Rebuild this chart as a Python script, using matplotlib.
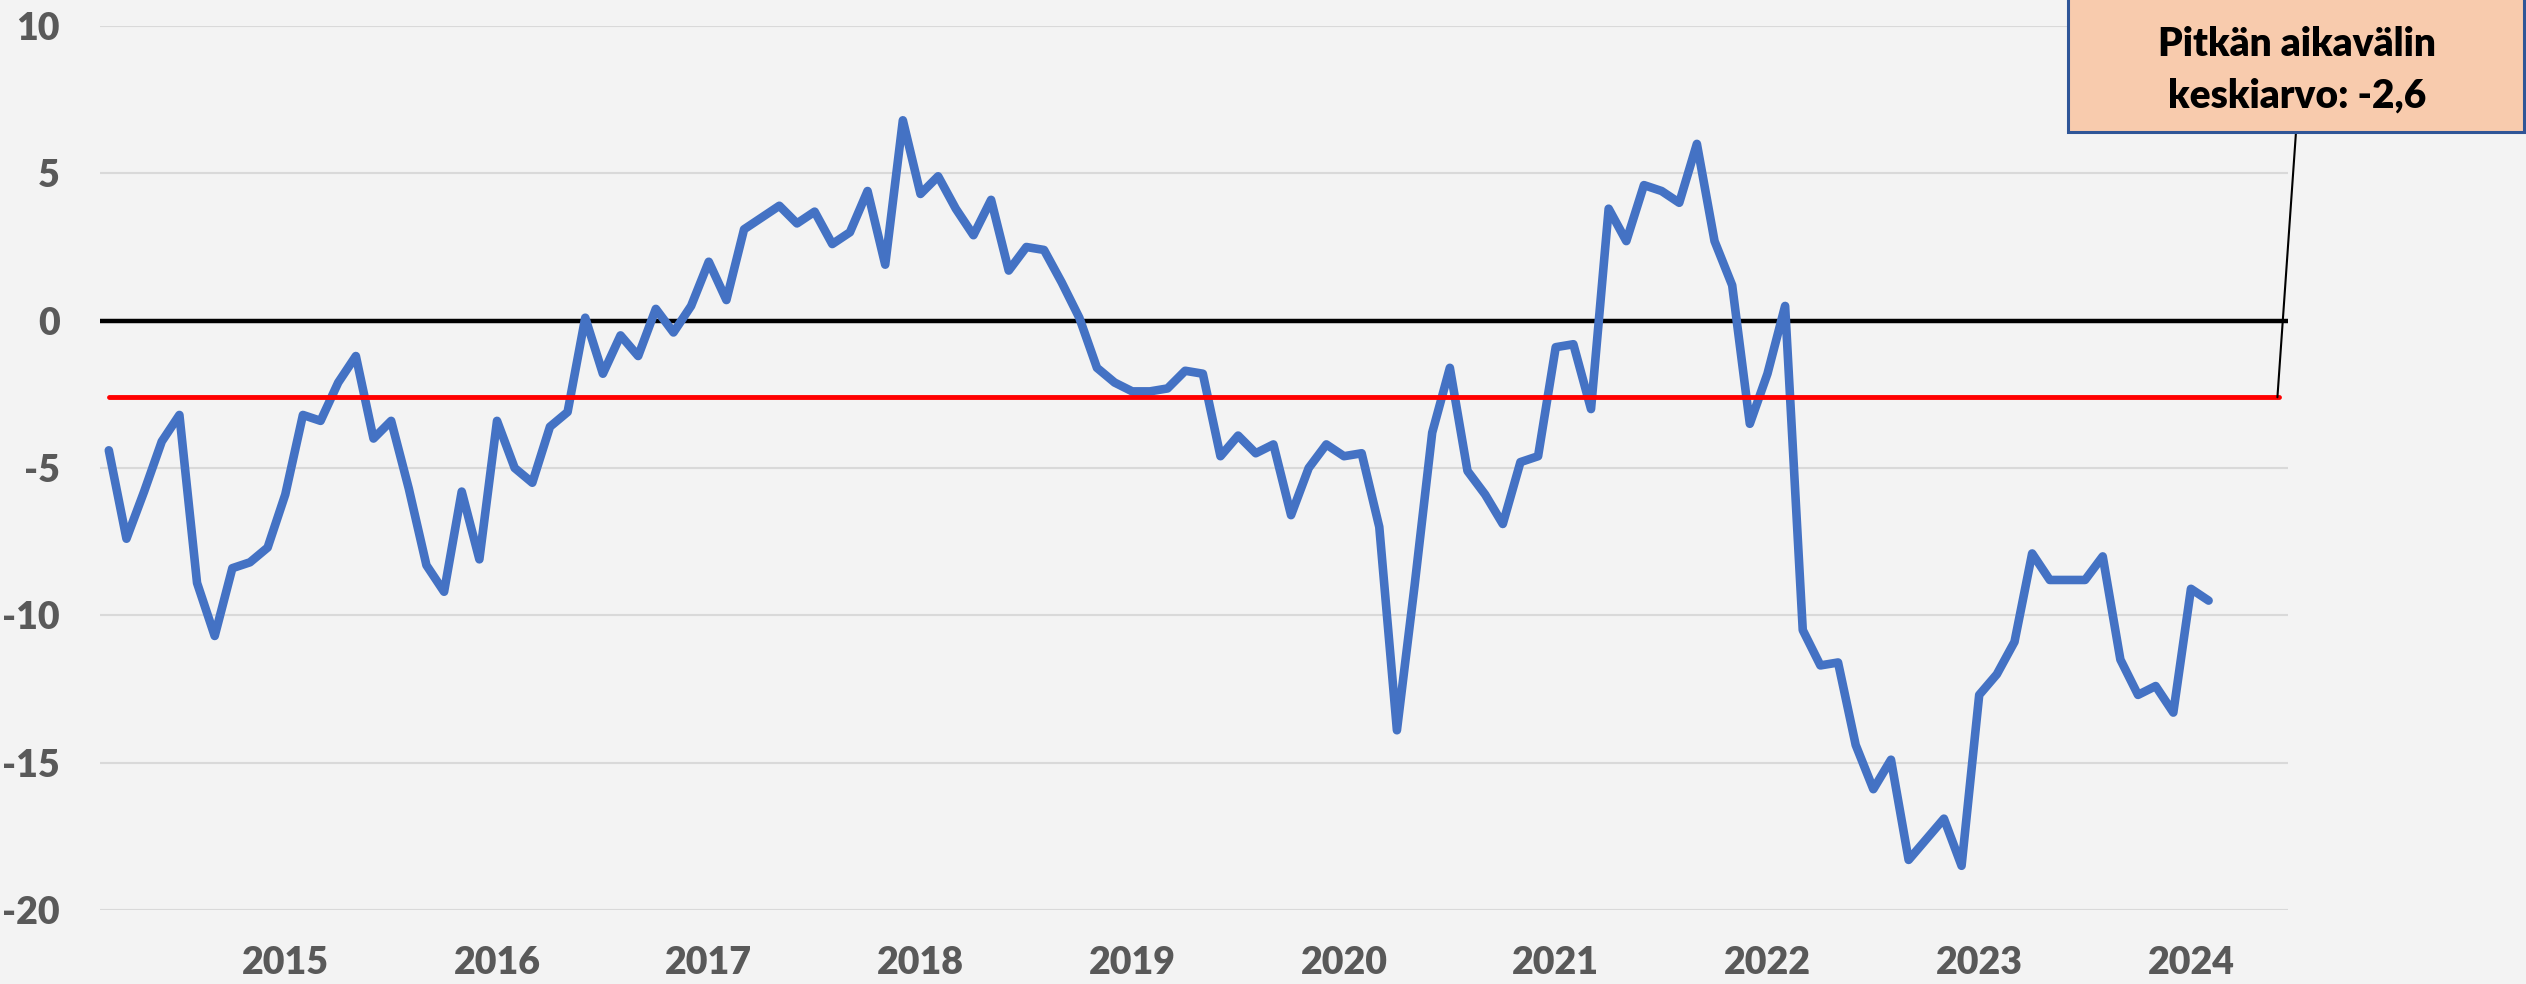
import matplotlib
matplotlib.use("Agg")
import matplotlib.pyplot as plt
import numpy as np

plt.rcParams["axes.unicode_minus"] = False
plt.rcParams["font.family"] = ["Lato", "DejaVu Sans"]

# monthly values, Mar 2014 .. Feb 2024
values = [
    -4.4, -7.4, -5.8, -4.1, -3.2, -8.9, -10.7, -8.4, -8.2, -7.7,
    -5.9, -3.2, -3.4, -2.1, -1.2, -4.0, -3.4, -5.7, -8.3, -9.2,
    -5.8, -8.1, -3.4, -5.0, -5.5, -3.6, -3.1, 0.1, -1.8, -0.5,
    -1.2, 0.4, -0.4, 0.5, 2.0, 0.7, 3.1, 3.5, 3.9, 3.3,
    3.7, 2.6, 3.0, 4.4, 1.9, 6.8, 4.3, 4.9, 3.8, 2.9,
    4.1, 1.7, 2.5, 2.4, 1.3, 0.1, -1.6, -2.1, -2.4, -2.4,
    -2.3, -1.7, -1.8, -4.6, -3.9, -4.5, -4.2, -6.6, -5.0, -4.2,
    -4.6, -4.5, -7.0, -13.9, -9.0, -3.8, -1.6, -5.1, -5.9, -6.9,
    -4.8, -4.6, -0.9, -0.8, -3.0, 3.8, 2.7, 4.6, 4.4, 4.0,
    6.0, 2.7, 1.2, -3.5, -1.8, 0.5, -10.5, -11.7, -11.6, -14.4,
    -15.9, -14.9, -18.3, -17.6, -16.9, -18.5, -12.7, -12.0, -10.9, -7.9,
    -8.8, -8.8, -8.8, -8.0, -11.5, -12.7, -12.4, -13.3, -9.1, -9.5,
]
n_slots = 124  # category slots on the axis (a few empty at the end)
long_avg = -2.6
years = [str(y) for y in range(2015, 2025)]
year_pos = [10 + 12 * k for k in range(len(years))]  # January of each year
yticks = [-20, -15, -10, -5, 0, 5, 10]

bg = "#F3F3F3"
fig = plt.figure(figsize=(25.26, 9.84), dpi=100, facecolor=bg)
ax = fig.add_axes([100 / 2526, 1 - 910 / 984, (2288 - 100) / 2526, (910 - 26) / 984])
ax.set_facecolor(bg)

x = np.arange(len(values))
ax.axhline(0, color="black", lw=3.2, zorder=2, solid_capstyle="butt")
ax.plot(x, values, color="#4472C4", lw=6.2, solid_joinstyle="round",
        solid_capstyle="round", zorder=3)
ax.plot([0, n_slots - 1], [long_avg, long_avg], color="#FF0000", lw=3.5,
        solid_capstyle="round", zorder=4)

ax.set_xlim(-0.5, n_slots - 0.5)
ax.set_ylim(-20, 10)
ax.set_yticks(yticks)
ax.set_yticklabels([str(v) for v in yticks])
ax.set_xticks(year_pos)
ax.set_xticklabels(years)
ax.grid(axis="y", color="#D9D9D9", lw=1.5, zorder=0)
ax.set_axisbelow(True)
for s in ax.spines.values():
    s.set_visible(False)
ax.tick_params(axis="both", length=0, colors="#595959", labelsize=27)
ax.tick_params(axis="y", pad=29)
ax.tick_params(axis="x", pad=26)
for lab in ax.get_xticklabels() + ax.get_yticklabels():
    lab.set_fontweight("heavy")

# callout box for the long-term average
x_end = n_slots - 1.1
ax.annotate("", xy=(x_end, long_avg), xycoords="data",
            xytext=(2296 / 2526, 1 - 132 / 984), textcoords="figure fraction",
            arrowprops=dict(arrowstyle="-", color="black", lw=1.5,
                            shrinkA=0, shrinkB=0), zorder=5)
box = plt.Rectangle((2068 / 2526, 1 - 132 / 984), (2524 - 2068) / 2526, 140 / 984,
                    transform=fig.transFigure, facecolor="#F8CBAD",
                    edgecolor="#2F5597", lw=2.2, zorder=6, clip_on=False)
fig.patches.append(box)
fig.text(2297 / 2526, 1 - 70 / 984, "Pitkän aikavälin\nkeskiarvo: -2,6",
         ha="center", va="center", fontsize=28, fontweight="heavy",
         color="black", linespacing=1.5, zorder=7)

fig.savefig("out.png", dpi=100, facecolor=bg)
